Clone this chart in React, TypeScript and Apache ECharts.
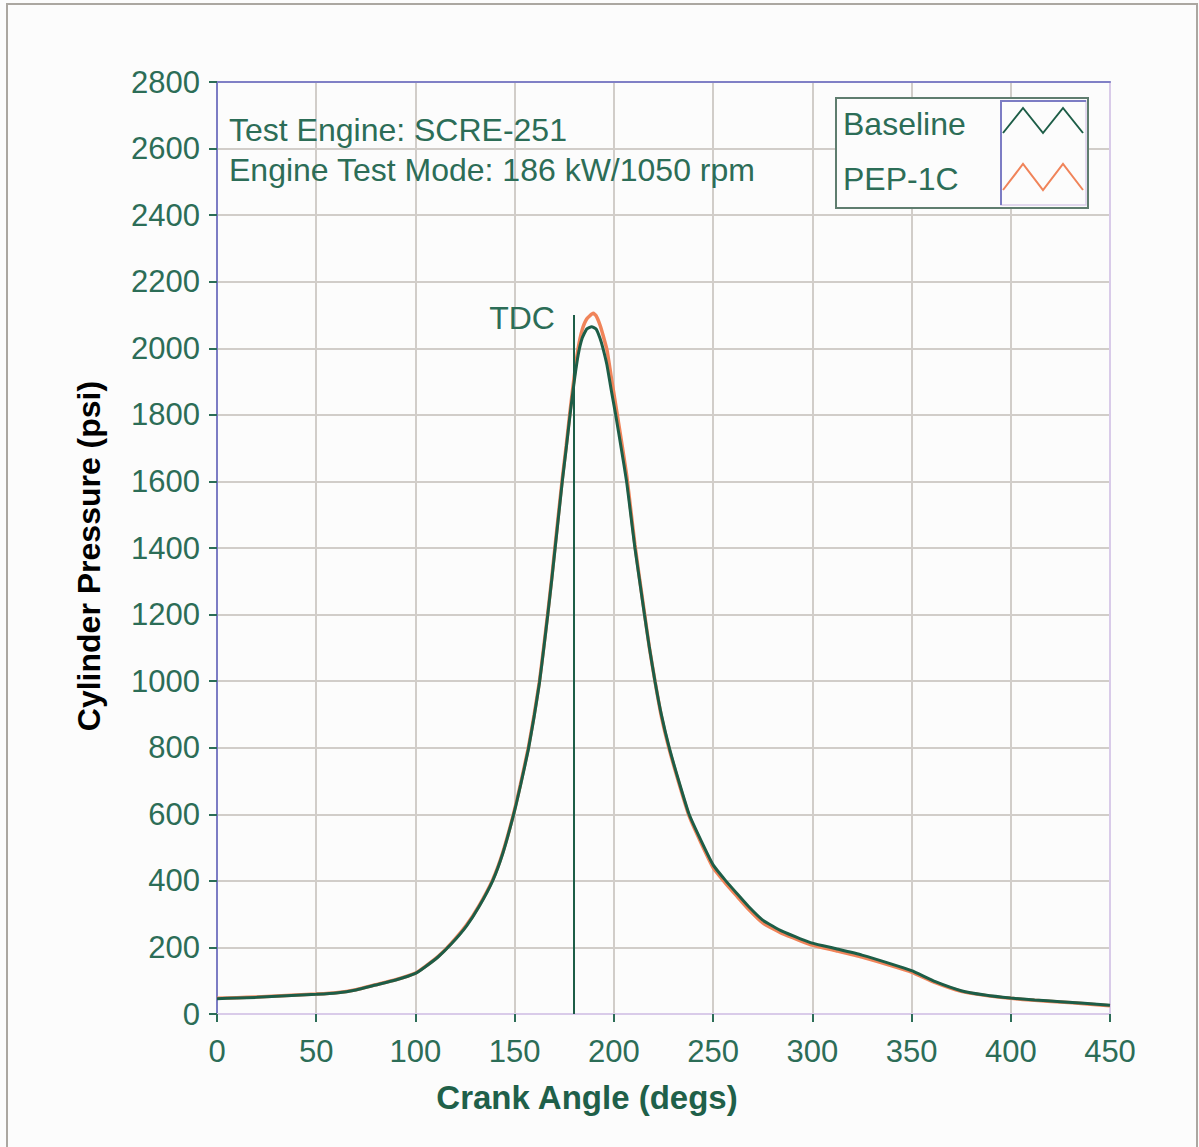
import React, { useEffect, useRef } from "react";
import * as echarts from "echarts";

// Crank angle (degs) and cylinder pressure (psi)
const baselineAngles = [0, 10, 20, 30, 40, 50, 60, 70, 80, 90, 100, 105, 111.5, 118, 125.8, 132, 138.9, 144, 149.3, 153, 156.9, 159.8, 162.5, 164.7, 166.7, 168.6, 170.4, 172.2, 174, 176, 177.9, 180, 182, 184, 186.3, 188.8, 191, 193, 194.5, 196.5, 198.5, 200.9, 203.7, 206.4, 208.5, 210.6, 213, 215.4, 217.9, 220.7, 223.9, 227.9, 232.7, 237.9, 244, 250, 256, 262, 268, 275, 285, 294, 300, 312, 325, 340, 350, 362, 375, 387, 400, 412, 425, 437, 450];
const baselinePressure = [46, 48, 50, 53, 56, 59, 63, 72, 87, 102, 122, 142, 172, 210, 265, 322, 400, 482, 595, 688, 795, 893, 995, 1100, 1200, 1300, 1400, 1500, 1600, 1700, 1800, 1900, 1980, 2030, 2058, 2065, 2058, 2030, 2000, 1950, 1880, 1800, 1700, 1600, 1500, 1400, 1300, 1200, 1100, 1000, 900, 800, 700, 600, 520, 448, 403, 362, 322, 282, 248, 226, 213, 196, 177, 150, 130, 97, 70, 57, 48, 42, 37, 32, 26];

const pepAngles = [0, 10, 20, 30, 40, 50, 60, 70, 80, 90, 100, 105, 111.5, 118, 125.8, 132, 138.9, 144, 149.3, 153, 156.9, 159.8, 162.5, 164.7, 166.7, 168.6, 170.4, 172.2, 174, 176, 177.9, 180, 182, 184, 186.3, 189.6, 191, 193, 194.5, 196.5, 198.5, 200.9, 203.7, 206.4, 208.5, 210.6, 213, 215.4, 217.9, 220.7, 223.9, 227.9, 232.7, 237.9, 244, 250, 256, 262, 268, 275, 285, 294, 300, 312, 325, 340, 350, 362, 375, 387, 400, 412, 425, 437, 450];
const pepPressure = [47, 49, 51, 54, 57, 60, 64, 73, 88, 103, 123, 143, 173, 212, 268, 325, 403, 485, 598, 692, 800, 898, 1000, 1105, 1205, 1305, 1408, 1508, 1608, 1708, 1810, 1915, 2000, 2055, 2088, 2105, 2098, 2070, 2040, 1995, 1920, 1830, 1725, 1620, 1515, 1410, 1305, 1205, 1100, 1000, 895, 795, 695, 595, 513, 440, 395, 354, 314, 274, 241, 220, 207, 190, 171, 145, 126, 94, 68, 56, 47, 41, 36, 31, 25];

const xTicks = { min: 0, max: 450, interval: 50 };
const yTicks = { min: 0, max: 2800, interval: 200 };
const tdcAngle = 180;
const tdcTop = 2100;

const seriesNames = ["Baseline", "PEP-1C"];
const annotationLines = ["Test Engine: SCRE-251", "Engine Test Mode: 186 kW/1050 rpm"];

const GREEN_TEXT = "#2c6d57";
const GREEN_LINE = "#1d5d47";
const ORANGE = "#f0845a";
const FONT = "'Liberation Sans', Arial, sans-serif";

function zip(xs: number[], ys: number[]) {
  return xs.map((x, i) => [x, ys[i]]);
}

export default function App() {
  const ref = useRef<HTMLDivElement>(null);

  useEffect(() => {
    if (!ref.current) return;
    const chart = echarts.init(ref.current, undefined, { renderer: "svg" });

    const axisLabel = { color: GREEN_TEXT, fontSize: 31, fontFamily: FONT, formatter: (v: number) => String(v) };
    const splitLine = { show: true, lineStyle: { color: "#d1cdc9", width: 2 } };
    const tick = { show: true, length: 8, lineStyle: { color: GREEN_TEXT, width: 2 } };

    const option: any = {
      animation: false,
      backgroundColor: "#fcfcfc",
      grid: { left: 217, top: 82, right: 89, bottom: 133 },
      xAxis: [
        {
          type: "value",
          ...xTicks,
          axisLine: { show: true, onZero: false, lineStyle: { color: "#d9cbe9", width: 2 } },
          axisTick: tick,
          axisLabel: { ...axisLabel, margin: 22 },
          splitLine,
        },
        {
          type: "value",
          position: "top",
          ...xTicks,
          axisLine: { show: true, onZero: false, lineStyle: { color: "#8080c6", width: 2 } },
          axisTick: { show: false },
          axisLabel: { show: false },
          splitLine: { show: false },
        },
      ],
      yAxis: [
        {
          type: "value",
          ...yTicks,
          axisLine: { show: true, onZero: false, lineStyle: { color: "#7c7cc4", width: 2 } },
          axisTick: tick,
          axisLabel: { ...axisLabel, margin: 17 },
          splitLine,
        },
        {
          type: "value",
          position: "right",
          ...yTicks,
          axisLine: { show: true, onZero: false, lineStyle: { color: "#d9cbe9", width: 2 } },
          axisTick: { show: false },
          axisLabel: { show: false },
          splitLine: { show: false },
        },
      ],
      series: [
        {
          name: seriesNames[1],
          type: "line",
          data: zip(pepAngles, pepPressure),
          showSymbol: false,
          smooth: 0.15,
          lineStyle: { color: ORANGE, width: 3.5 },
          itemStyle: { color: ORANGE },
          z: 3,
        },
        {
          name: seriesNames[0],
          type: "line",
          data: zip(baselineAngles, baselinePressure),
          showSymbol: false,
          smooth: 0.15,
          lineStyle: { color: GREEN_LINE, width: 3 },
          itemStyle: { color: GREEN_LINE },
          z: 4,
          markLine: {
            silent: true,
            symbol: ["none", "none"],
            label: { show: false },
            lineStyle: { color: GREEN_LINE, width: 2, type: "solid" },
            data: [[{ coord: [tdcAngle, 0] }, { coord: [tdcAngle, tdcTop] }]],
          },
        },
      ],
      graphic: [
        {
          type: "rect",
          shape: { x: 7, y: 4, width: 1190, height: 1160 },
          style: { fill: "none", stroke: "#aba7a1", lineWidth: 2 },
          z: 0,
        },
        {
          type: "text",
          x: 229,
          y: 130,
          style: { text: annotationLines[0], fill: GREEN_TEXT, fontSize: 32, fontFamily: FONT, verticalAlign: "middle" },
          z: 60,
        },
        {
          type: "text",
          x: 229,
          y: 170,
          style: { text: annotationLines[1], fill: GREEN_TEXT, fontSize: 32, fontFamily: FONT, verticalAlign: "middle" },
          z: 60,
        },
        {
          type: "text",
          x: 522,
          y: 318,
          style: { text: "TDC", fill: GREEN_TEXT, fontSize: 32, fontFamily: FONT, align: "center", verticalAlign: "middle" },
          z: 60,
        },
        // legend box
        {
          type: "rect",
          shape: { x: 836, y: 98, width: 252, height: 110 },
          style: { fill: "#fcfcfc", stroke: "#5f7d6f", lineWidth: 2 },
          z: 50,
        },
        {
          type: "rect",
          shape: { x: 1001, y: 101, width: 85, height: 104 },
          style: { fill: "#fcfcfc", stroke: "#d9cbe9", lineWidth: 1.5 },
          z: 51,
        },
        {
          type: "polyline",
          shape: { points: [[1001, 205], [1001, 101], [1086, 101]] },
          style: { stroke: "#7c7cc4", lineWidth: 2, fill: "none" },
          z: 52,
        },
        {
          type: "polyline",
          shape: { points: [[1003, 133], [1023, 108], [1043, 133], [1063, 108], [1083, 133]] },
          style: { stroke: GREEN_LINE, lineWidth: 2, fill: "none" },
          z: 53,
        },
        {
          type: "polyline",
          shape: { points: [[1003, 190], [1023, 164], [1043, 190], [1063, 164], [1083, 190]] },
          style: { stroke: ORANGE, lineWidth: 2, fill: "none" },
          z: 53,
        },
        {
          type: "text",
          x: 843,
          y: 124,
          style: { text: seriesNames[0], fill: GREEN_TEXT, fontSize: 32, fontFamily: FONT, verticalAlign: "middle" },
          z: 53,
        },
        {
          type: "text",
          x: 843,
          y: 179,
          style: { text: seriesNames[1], fill: GREEN_TEXT, fontSize: 32, fontFamily: FONT, verticalAlign: "middle" },
          z: 53,
        },
        // axis titles
        {
          type: "text",
          x: 587,
          y: 1097,
          style: { text: "Crank Angle (degs)", fill: "#1f6049", fontSize: 33, fontWeight: "bold", fontFamily: FONT, align: "center", verticalAlign: "middle" },
          z: 60,
        },
        {
          type: "text",
          x: 89,
          y: 556,
          rotation: Math.PI / 2,
          style: { text: "Cylinder Pressure (psi)", fill: "#000000", fontSize: 32, fontWeight: "bold", fontFamily: FONT, align: "center", verticalAlign: "middle" },
          z: 60,
        },
      ],
    };

    chart.setOption(option);
    return () => chart.dispose();
  }, []);

  return (
    <div
      ref={ref}
      style={{ position: "absolute", left: 0, top: 0, width: 1199, height: 1147, background: "#ffffff" }}
    />
  );
}
